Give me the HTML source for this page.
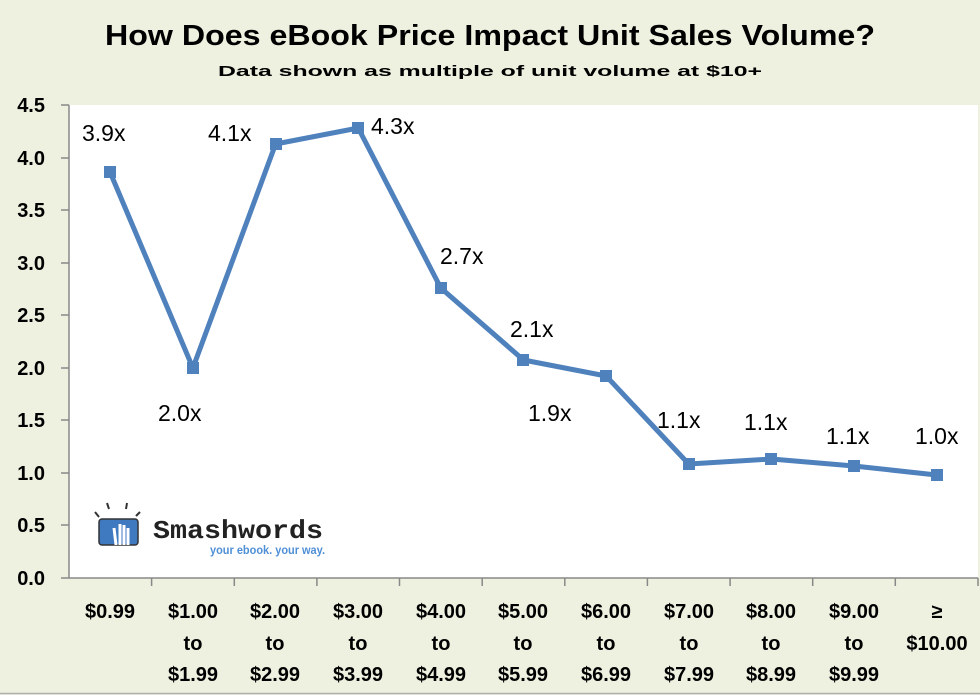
<!DOCTYPE html>
<html><head><style>
body{margin:0;background:#eef1e0;}
svg{display:block;font-family:"Liberation Sans",Arial,sans-serif;}
</style></head><body>
<svg width="980" height="695" viewBox="0 0 980 695">
<rect width="980" height="695" fill="#eef1e0"/>
<line x1="0" y1="693.5" x2="980" y2="693.5" stroke="#b0b0b0" stroke-width="1.5"/>
<text x="105" y="45" font-size="29" font-weight="bold" fill="#000" textLength="770" lengthAdjust="spacingAndGlyphs">How Does eBook Price Impact Unit Sales Volume?</text>
<text x="218" y="76" font-size="15" font-weight="bold" fill="#000" textLength="544" lengthAdjust="spacingAndGlyphs">Data shown as multiple of unit volume at $10+</text>
<rect x="69" y="105" width="909" height="473" fill="#fff"/>
<g stroke="#888" stroke-width="1.5">
<line x1="69" y1="105" x2="69" y2="578"/>
<line x1="61" y1="578" x2="978" y2="578"/>
<line x1="61" y1="105" x2="69" y2="105"/><line x1="61" y1="158" x2="69" y2="158"/><line x1="61" y1="210" x2="69" y2="210"/><line x1="61" y1="263" x2="69" y2="263"/><line x1="61" y1="315" x2="69" y2="315"/><line x1="61" y1="368" x2="69" y2="368"/><line x1="61" y1="420" x2="69" y2="420"/><line x1="61" y1="473" x2="69" y2="473"/><line x1="61" y1="525" x2="69" y2="525"/>
<line x1="151.6" y1="578" x2="151.6" y2="586"/><line x1="234.3" y1="578" x2="234.3" y2="586"/><line x1="316.9" y1="578" x2="316.9" y2="586"/><line x1="399.5" y1="578" x2="399.5" y2="586"/><line x1="482.2" y1="578" x2="482.2" y2="586"/><line x1="564.8" y1="578" x2="564.8" y2="586"/><line x1="647.4" y1="578" x2="647.4" y2="586"/><line x1="730.1" y1="578" x2="730.1" y2="586"/><line x1="812.7" y1="578" x2="812.7" y2="586"/><line x1="895.3" y1="578" x2="895.3" y2="586"/><line x1="978" y1="578" x2="978" y2="586"/>
</g>
<g font-size="20" font-weight="bold" text-anchor="end" fill="#000">
<text x="45" y="112">4.5</text><text x="45" y="165">4.0</text><text x="45" y="217">3.5</text><text x="45" y="270">3.0</text><text x="45" y="322">2.5</text><text x="45" y="375">2.0</text><text x="45" y="427">1.5</text><text x="45" y="480">1.0</text><text x="45" y="532">0.5</text><text x="45" y="585">0.0</text>
</g>
<g font-size="20" font-weight="bold" text-anchor="middle" fill="#000">
<text x="110" y="618">$0.99</text>
<text x="193" y="618">$1.00</text><text x="193" y="650">to</text><text x="193" y="681">$1.99</text>
<text x="275" y="618">$2.00</text><text x="275" y="650">to</text><text x="275" y="681">$2.99</text>
<text x="358" y="618">$3.00</text><text x="358" y="650">to</text><text x="358" y="681">$3.99</text>
<text x="441" y="618">$4.00</text><text x="441" y="650">to</text><text x="441" y="681">$4.99</text>
<text x="523" y="618">$5.00</text><text x="523" y="650">to</text><text x="523" y="681">$5.99</text>
<text x="606" y="618">$6.00</text><text x="606" y="650">to</text><text x="606" y="681">$6.99</text>
<text x="689" y="618">$7.00</text><text x="689" y="650">to</text><text x="689" y="681">$7.99</text>
<text x="771" y="618">$8.00</text><text x="771" y="650">to</text><text x="771" y="681">$8.99</text>
<text x="854" y="618">$9.00</text><text x="854" y="650">to</text><text x="854" y="681">$9.99</text>
<text x="937" y="618">≥</text><text x="937" y="650">$10.00</text>
</g>
<polyline points="110,172 192.9,368 275.6,144 358.2,128 440.8,288 523.5,360 606.1,376 688.7,464 771.4,459 854,466 936.6,475" fill="none" stroke="#4f81bd" stroke-width="5" stroke-linejoin="round"/>
<g fill="#4f81bd">
<rect x="104" y="166" width="12" height="12"/><rect x="187" y="362" width="12" height="12"/><rect x="270" y="138" width="12" height="12"/><rect x="352" y="122" width="12" height="12"/><rect x="435" y="282" width="12" height="12"/><rect x="517" y="354" width="12" height="12"/><rect x="600" y="370" width="12" height="12"/><rect x="683" y="458" width="12" height="12"/><rect x="765" y="453" width="12" height="12"/><rect x="848" y="460" width="12" height="12"/><rect x="931" y="469" width="12" height="12"/>
</g>
<g font-size="23" fill="#000">
<text x="82" y="141">3.9x</text><text x="158" y="421">2.0x</text><text x="208" y="141">4.1x</text><text x="371" y="134">4.3x</text><text x="440" y="264">2.7x</text><text x="510" y="337">2.1x</text><text x="528" y="421">1.9x</text><text x="657" y="428">1.1x</text><text x="744" y="430">1.1x</text><text x="826" y="444">1.1x</text><text x="915" y="444">1.0x</text>
</g>
<g>
<line x1="95" y1="512" x2="99" y2="517" stroke="#333" stroke-width="2"/><line x1="107" y1="503" x2="109" y2="509" stroke="#333" stroke-width="2"/><line x1="127" y1="503" x2="126" y2="509" stroke="#333" stroke-width="2"/><line x1="140" y1="512" x2="136" y2="516" stroke="#333" stroke-width="2"/>
<rect x="99" y="519" width="39" height="26" rx="3" fill="#3f79c0" stroke="#333" stroke-width="1.5"/>
<path d="M116 545 L114 528 M120 545 L120 524 M124 545 L124 525 M128 545 L128 528" stroke="#fff" stroke-width="3"/>
<text x="153" y="538" font-family="Liberation Mono,monospace" font-size="26" font-weight="bold" fill="#222" textLength="170" lengthAdjust="spacingAndGlyphs">Smashwords</text>
<text x="210" y="554" font-size="12" font-weight="bold" fill="#4f8fd6" textLength="115" lengthAdjust="spacingAndGlyphs">your ebook. your way.</text>
</g>
</svg>
</body></html>
